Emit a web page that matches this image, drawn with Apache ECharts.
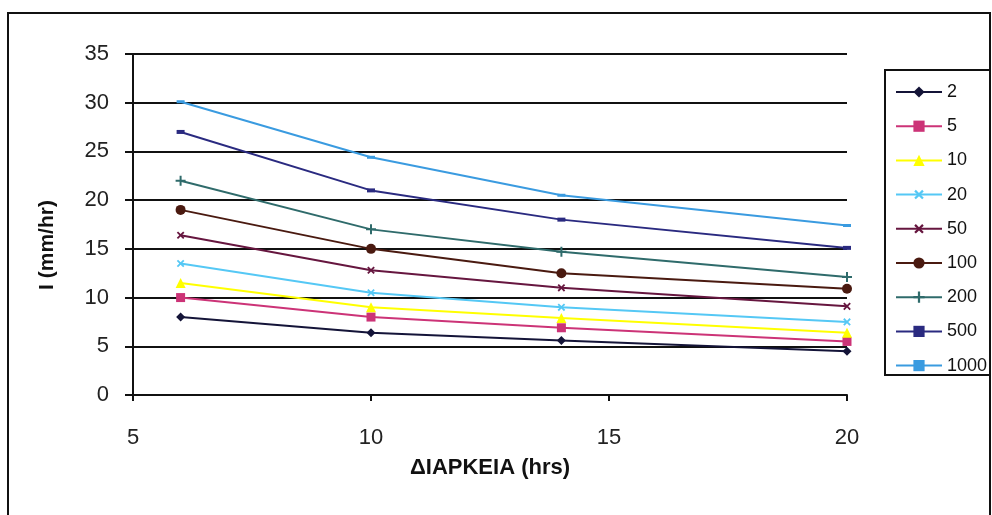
<!DOCTYPE html>
<html>
<head>
<meta charset="utf-8">
<script src="https://cdn.jsdelivr.net/npm/echarts@6/dist/echarts.min.js"></script>
<style>
html,body{margin:0;padding:0;background:#fff;}
#chart{width:992px;height:515px;}
</style>
</head>
<body>
<div id="chart"></div>
<script>
var durations = [6, 10, 14, 20];
var seriesNames = ['2', '5', '10', '20', '50', '100', '200', '500', '1000'];
var s2 = [8.0, 6.4, 5.6, 4.5];
var s5 = [10.0, 8.0, 6.9, 5.5];
var s10 = [11.5, 9.0, 7.9, 6.4];
var s20 = [13.5, 10.5, 9.0, 7.5];
var s50 = [16.4, 12.8, 11.0, 9.1];
var s100 = [19.0, 15.0, 12.5, 10.9];
var s200 = [22.0, 17.0, 14.7, 12.1];
var s500 = [27.0, 21.0, 18.0, 15.1];
var s1000 = [30.1, 24.4, 20.5, 17.4];
var yTicks = [0, 5, 10, 15, 20, 25, 30, 35];
var xTicks = [5, 10, 15, 20];
var yTitle = 'I (mm/hr)';
var xTitle = 'ΔΙΑΡΚΕΙΑ (hrs)';

var allValues = [s2, s5, s10, s20, s50, s100, s200, s500, s1000];
var colors = ['#141438', '#cc3377', '#ffff00', '#55c8f5', '#66163f', '#4a1a10', '#2f6b6b', '#2a2a80', '#3a9be0'];
var plusPath = 'path://M4,0H6V4H10V6H6V10H4V6H0V4H4Z';
var symbols = ['diamond', 'rect', 'triangle', plusPath, plusPath, 'circle', plusPath, 'rect', 'rect'];
var symSizes = [9, 9, 10, 9, 9, 10, 10, [8, 4], [8, 3]];
var symRot = [0, 0, 0, 45, 45, 0, 0, 0, 0];

var series = allValues.map(function (vals, i) {
  return {
    name: seriesNames[i],
    type: 'line',
    data: durations.map(function (d, j) { return [d, vals[j]]; }),
    symbol: symbols[i],
    symbolSize: symSizes[i],
    symbolRotate: symRot[i],
    showAllSymbol: true,
    lineStyle: { color: colors[i], width: 2 },
    itemStyle: { color: colors[i], borderWidth: 0 },
    emphasis: { disabled: true },
    animation: false
  };
});

var chart = echarts.init(document.getElementById('chart'));
chart.setOption({
  backgroundColor: '#ffffff',
  animation: false,
  color: colors,
  textStyle: { fontFamily: 'Liberation Sans, Arial, sans-serif' },
  grid: { left: 133, right: 145, top: 54, bottom: 120, containLabel: false },
  xAxis: {
    type: 'value',
    min: xTicks[0],
    max: xTicks[xTicks.length - 1],
    interval: 5,
    axisLine: { show: true, onZero: false, lineStyle: { color: '#111', width: 2 } },
    axisTick: { show: true, inside: false, length: 6, lineStyle: { color: '#111', width: 2 } },
    axisLabel: { color: '#222', fontSize: 22, margin: 32 },
    splitLine: { show: false },
    name: xTitle,
    nameLocation: 'middle',
    nameGap: 62,
    nameTextStyle: { color: '#111', fontSize: 22, fontWeight: 'bold' }
  },
  yAxis: {
    type: 'value',
    min: yTicks[0],
    max: yTicks[yTicks.length - 1],
    interval: 5,
    axisLine: { show: true, lineStyle: { color: '#111', width: 2 } },
    axisTick: { show: true, inside: false, length: 8, lineStyle: { color: '#111', width: 2 } },
    axisLabel: { color: '#222', fontSize: 22, margin: 24 },
    splitLine: { show: true, lineStyle: { color: '#111', width: 2 } },
    name: ''
  },
  legend: {
    orient: 'vertical',
    left: 890,
    top: 78,
    itemWidth: 46,
    itemHeight: 14,
    itemGap: 16.2,
    textStyle: { color: '#111', fontSize: 18 },
    data: seriesNames,
    selectedMode: false
  },
  graphic: [
    { type: 'rect', shape: { x: 8, y: 13, width: 982, height: 510 }, style: { fill: 'none', stroke: '#111', lineWidth: 2 }, silent: true },
    { type: 'rect', shape: { x: 885, y: 70, width: 105, height: 305 }, style: { fill: 'none', stroke: '#111', lineWidth: 2 }, silent: true },
    { type: 'text', x: 47, y: 245, rotation: Math.PI / 2, silent: true,
      style: { text: yTitle, fill: '#111', fontSize: 21, fontWeight: 'bold', fontFamily: 'Liberation Sans, Arial, sans-serif', align: 'center', verticalAlign: 'middle' } }
  ],
  series: series
});
</script>
</body>
</html>
